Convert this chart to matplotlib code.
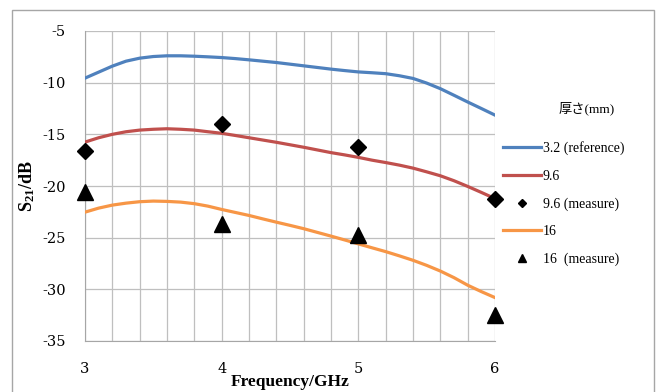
import matplotlib
matplotlib.use("Agg")
import matplotlib.pyplot as plt
from matplotlib.patches import Rectangle
from matplotlib.ticker import FuncFormatter

plt.rcParams["font.family"] = ["Liberation Serif", "Noto Sans CJK JP"]
plt.rcParams["axes.unicode_minus"] = False
plt.rcParams["mathtext.fontset"] = "custom"
plt.rcParams["mathtext.rm"] = "Liberation Serif"
plt.rcParams["mathtext.bf"] = "Liberation Serif:bold"

# frequency points of the simulated curves (GHz)
freq = [3.0, 3.1, 3.2, 3.3, 3.4, 3.5, 3.6, 3.7, 3.8, 3.9,
        4.0, 4.1, 4.2, 4.3, 4.4, 4.5, 4.6, 4.7, 4.8, 4.9,
        5.0, 5.1, 5.2, 5.3, 5.4, 5.5, 5.6, 5.7, 5.8, 5.9, 6.0]

# S21 (dB) per thickness
s21_32 = [-9.56, -8.98, -8.40, -7.92, -7.63, -7.47, -7.40, -7.40, -7.44, -7.50,
          -7.57, -7.67, -7.79, -7.92, -8.05, -8.21, -8.37, -8.53, -8.69, -8.83,
          -8.96, -9.04, -9.13, -9.33, -9.59, -10.04, -10.58, -11.22, -11.87, -12.50, -13.14]
s21_96 = [-15.75, -15.33, -15.00, -14.75, -14.59, -14.51, -14.46, -14.51, -14.59, -14.75,
          -14.90, -15.11, -15.33, -15.55, -15.77, -16.01, -16.25, -16.51, -16.77, -16.99,
          -17.23, -17.50, -17.73, -17.98, -18.27, -18.63, -19.01, -19.49, -20.04, -20.62, -21.22]
s21_16 = [-22.53, -22.14, -21.85, -21.66, -21.52, -21.46, -21.49, -21.56, -21.71, -21.95,
          -22.27, -22.56, -22.85, -23.18, -23.50, -23.81, -24.13, -24.49, -24.85, -25.22,
          -25.60, -25.98, -26.35, -26.76, -27.19, -27.68, -28.23, -28.87, -29.60, -30.22, -30.80]

# measured points
meas_freq = [3, 4, 5, 6]
meas_96 = [-16.6, -14.03, -16.19, -21.26]
meas_16 = [-20.6, -23.7, -24.7, -32.5]

labels = ["3.2 (reference)", "9.6", "9.6 (measure)", "16", "16\u2002(measure)"]
legend_title = "厚さ(mm)"

fig = plt.figure(figsize=(6.62, 3.92), dpi=100)
ax = fig.add_axes([85 / 662, 1 - 341 / 392, 410 / 662, 310 / 392])

# outer chart border
fig.patches.append(Rectangle((12 / 662, -0.05), 642 / 662, 1.05 - 10 / 392,
                             transform=fig.transFigure, fill=False,
                             edgecolor="#A6A6A6", linewidth=1.0))

lw = 2.3
ax.plot(freq, s21_32, color="#4F81BD", lw=lw, label=labels[0], zorder=3, solid_joinstyle="round")
ax.plot(freq, s21_96, color="#C0504D", lw=lw, label=labels[1], zorder=3, solid_joinstyle="round")
ax.plot(meas_freq, meas_96, "D", color="black", ms=8, label=labels[2], zorder=4, clip_on=False)
ax.plot(freq, s21_16, color="#F79646", lw=lw, label=labels[3], zorder=3, solid_joinstyle="round")
ax.plot(meas_freq, meas_16, "^", color="black", ms=12, label=labels[4], zorder=4, clip_on=False)

ax.set_xlim(3, 6)
ax.set_ylim(-35, -5)
ax.set_xticks([3, 4, 5, 6])
ax.set_xticks([3 + 0.2 * i for i in range(16)], minor=True)
ax.set_yticks([-35, -30, -25, -20, -15, -10, -5])
ax.yaxis.set_major_formatter(FuncFormatter(lambda v, p: "%d" % v))
ax.grid(True, which="both", color="#BFBFBF", lw=0.9)
ax.set_axisbelow(True)
ax.tick_params(which="both", length=0)
ax.tick_params(axis="x", pad=15)
ax.tick_params(axis="y", pad=14)
for t in ax.get_xticklabels() + ax.get_yticklabels():
    t.set_fontfamily("DejaVu Serif")
    t.set_fontsize(10.5)

for s in ["top", "right"]:
    ax.spines[s].set_visible(False)
for s in ["left", "bottom"]:
    ax.spines[s].set_color("#A6A6A6")

ax.set_xlabel("Frequency/GHz", fontsize=12.5, fontweight="bold")
ax.xaxis.set_label_coords(0.5, -0.108)
ax.set_ylabel(r"$\mathbf{S_{21}}$/dB", fontsize=13, fontweight="bold")
ax.yaxis.set_label_coords(-0.118, 0.5)

fig.text(587 / 662, 1 - 108 / 392, legend_title, fontsize=9.5, ha="center", va="center")
ax.legend(loc="upper left", bbox_to_anchor=(503 / 662, 1 - 141 / 392),
          bbox_transform=fig.transFigure, frameon=False, fontsize=10,
          handlelength=2.7, handletextpad=0.15, labelspacing=1.05,
          markerscale=0.45, borderpad=0, borderaxespad=0)

fig.savefig("out.png", dpi=100)
